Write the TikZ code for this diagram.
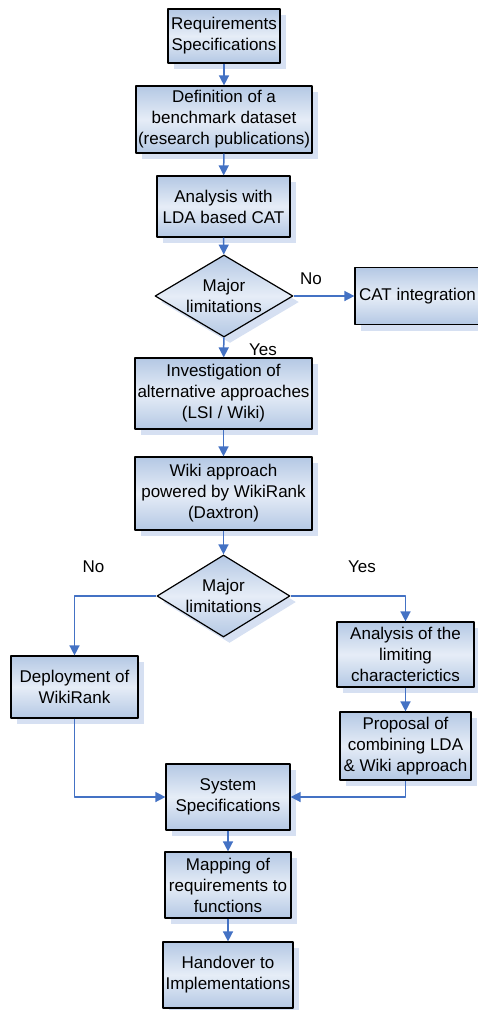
\documentclass[tikz,border=0pt]{standalone}
\usepackage{fontspec}
\setmainfont{Liberation Sans}
\usetikzlibrary{arrows.meta,shapes.geometric,shadows}
\definecolor{boxblue}{RGB}{180,200,228}
\definecolor{boxlight}{RGB}{230,237,247}
\definecolor{shadeblue}{RGB}{214,224,242}
\definecolor{lineblue}{RGB}{68,114,196}
\begin{document}
\begin{tikzpicture}[x=1pt,y=-1pt,>={Triangle[length=10pt,width=10pt]},line join=round,
	font=\fontsize{17}{21}\selectfont,
	box/.style={draw=black,line width=1.2pt,top color=boxblue,bottom color=boxblue,middle color=boxlight,
		align=center,inner sep=0pt,drop shadow={fill=shadeblue,opacity=1,shadow xshift=6pt,shadow yshift=-6pt}},
	dec/.style={box,diamond,aspect=1.68},
	link/.style={->,draw=lineblue,line width=1.5pt}]
	\useasboundingbox (0,0) rectangle (478,1010);
	\node[box,minimum width=112pt,minimum height=54pt] (req) at (224,36) {Requirements\\Specifications};
	\node[box,minimum width=176pt,minimum height=67pt] (bench) at (224,119.5) {Definition of a\\benchmark dataset\\(research publications)};
	\node[box,minimum width=133pt,minimum height=61pt] (lda) at (223.5,206.5) {Analysis with\\LDA based CAT};
	\node[dec,minimum width=138pt,minimum height=82pt] (dec1) at (224,296) {Major\\limitations};
	\node[box,minimum width=125pt,minimum height=57pt] (cat) at (417.5,296) {CAT integration};
	\node[box,minimum width=177pt,minimum height=71pt] (invest) at (223.5,393.5) {Investigation of\\alternative approaches\\(LSI / Wiki)};
	\node[box,minimum width=177pt,minimum height=73pt] (wiki) at (223.5,493.5) {Wiki approach\\powered by WikiRank\\(Daxtron)};
	\node[dec,minimum width=133pt,minimum height=82pt] (dec2) at (223.5,596) {Major\\limitations};
	\node[box,minimum width=127pt,minimum height=62pt] (deploy) at (74.5,687) {Deployment of\\WikiRank};
	\node[box,minimum width=137pt,minimum height=65pt] (limit) at (405.5,654.5) {Analysis of the\\limiting\\characterictics};
	\node[box,minimum width=131pt,minimum height=68pt] (propose) at (405.5,746) {Proposal of\\combining LDA\\\& Wiki approach};
	\node[box,minimum width=124pt,minimum height=66pt] (sysspec) at (228,797) {System\\Specifications};
	\node[box,minimum width=126pt,minimum height=66pt] (mapping) at (228,885) {Mapping of\\requirements to\\functions};
	\node[box,minimum width=130pt,minimum height=66pt] (handover) at (228,975) {Handover to\\Implementations};
	\node (no1) at (311,279) {No};
	\node (yes1) at (263,350) {Yes};
	\node (no2) at (93.5,567) {No};
	\node (yes2) at (362,567) {Yes};
	\draw[link] (req) -- (bench);
	\draw[link] (bench) -- (lda);
	\draw[link] (lda) -- (dec1);
	\draw[link] (dec1.east) -- (cat.west |- dec1.east);
	\draw[link] (dec1) -- (invest);
	\draw[link] (invest) -- (wiki);
	\draw[link] (wiki) -- (dec2);
	\draw[link] (dec2.west) -| (deploy.north);
	\draw[link] (dec2.east) -| (limit.north);
	\draw[link] (limit) -- (propose);
	\draw[link] (deploy.south) |- (sysspec.west);
	\draw[link] (propose.south) |- (sysspec.east);
	\draw[link] (sysspec) -- (mapping);
	\draw[link] (mapping) -- (handover);
\end{tikzpicture}
\end{document}
